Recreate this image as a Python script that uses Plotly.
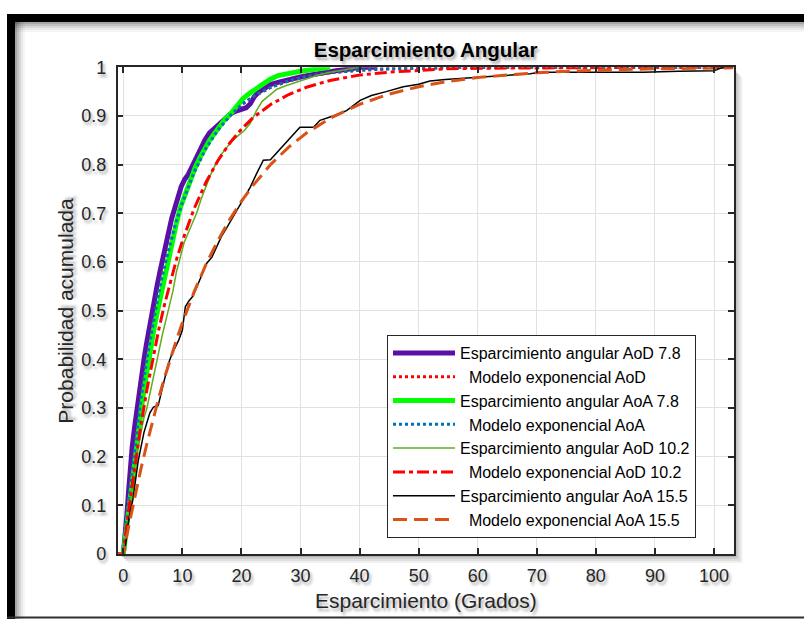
import plotly.graph_objects as go

W, H = 804, 619

# ---------------- data ----------------
model_x = [-0.95, 0, 1, 2, 3, 4, 5, 6, 7, 8, 9, 10, 12, 14, 16, 18, 20, 22, 25, 28,
           31, 35, 40, 45, 50, 55, 60, 70, 80, 90, 103.3]
model_aod = [0, 0, 0.120, 0.226, 0.319, 0.401, 0.473, 0.537, 0.592, 0.641, 0.685, 0.722,
             0.785, 0.834, 0.871, 0.900, 0.923, 0.940, 0.959, 0.972, 0.981, 0.989,
             0.994, 0.997, 0.998, 0.999, 1.0, 1.0, 1.0, 1.0, 1.0]
model_aoa = [0, 0, 0.120, 0.226, 0.319, 0.401, 0.473, 0.537, 0.592, 0.641, 0.685, 0.722,
             0.785, 0.834, 0.871, 0.900, 0.923, 0.940, 0.959, 0.972, 0.981, 0.989,
             0.994, 0.997, 0.998, 0.999, 1.0, 1.0, 1.0, 1.0, 1.0]
model_aod_102 = [0, 0, 0.098, 0.186, 0.266, 0.338, 0.403, 0.461, 0.514, 0.562, 0.605, 0.643,
                 0.710, 0.764, 0.808, 0.844, 0.873, 0.897, 0.924, 0.944, 0.959, 0.973,
                 0.984, 0.990, 0.994, 0.997, 0.998, 0.999, 1.0, 1.0, 1.0]
model_aoa_155 = [0, 0, 0.062, 0.121, 0.176, 0.227, 0.276, 0.321, 0.363, 0.403, 0.440, 0.475,
                 0.539, 0.595, 0.644, 0.687, 0.725, 0.758, 0.801, 0.836, 0.865, 0.895,
                 0.924, 0.945, 0.960, 0.971, 0.979, 0.989, 0.994, 0.997, 0.999]

emp_aod_x = [0, 0.3, 0.6, 0.9, 1.2, 1.5, 1.9, 2.3, 2.7, 3.1, 3.5, 3.9, 4.3, 4.8, 5.2, 5.7,
             6.2, 6.7, 7.2, 7.7, 8.2, 8.7, 9.2, 9.8, 10.4, 11.0, 11.6, 12.3, 13.0, 13.8,
             14.6, 15.5, 16.4, 17.3, 18.2, 19.1, 20.0, 20.8, 21.5, 22.2, 23.0, 24.0, 25.0,
             26.5, 28.0, 30.0, 32.0, 34.0, 36.0, 38.0, 40.0, 43.0]
emp_aod_y = [0, 0.03, 0.08, 0.13, 0.18, 0.22, 0.26, 0.30, 0.33, 0.37, 0.40, 0.43, 0.46, 0.49,
             0.52, 0.55, 0.58, 0.61, 0.64, 0.66, 0.69, 0.71, 0.73, 0.755, 0.77, 0.78, 0.795,
             0.81, 0.83, 0.85, 0.865, 0.875, 0.885, 0.895, 0.905, 0.91, 0.915, 0.917, 0.925,
             0.94, 0.95, 0.958, 0.965, 0.97, 0.975, 0.98, 0.985, 0.99, 0.993, 0.996, 1.0, 1.0]

emp_aoa_x = [0, 0.4, 0.8, 1.2, 1.6, 2.0, 2.4, 2.8, 3.3, 3.8, 4.3, 4.8, 5.3, 5.8, 6.3, 6.8,
             7.3, 7.8, 8.4, 9.0, 9.6, 10.2, 10.8, 11.5, 12.2, 13.0, 13.8, 14.6, 15.5, 16.4,
             17.3, 18.2, 19.2, 20.2, 21.2, 22.3, 23.5, 24.8, 26.2, 28.0, 30.0, 32.5, 35.0]
emp_aoa_y = [0, 0.04, 0.09, 0.13, 0.17, 0.21, 0.24, 0.28, 0.32, 0.36, 0.40, 0.43, 0.47, 0.50,
             0.53, 0.56, 0.59, 0.62, 0.65, 0.68, 0.71, 0.73, 0.75, 0.775, 0.795, 0.815, 0.835,
             0.85, 0.865, 0.88, 0.895, 0.905, 0.92, 0.935, 0.945, 0.955, 0.965, 0.975, 0.983,
             0.988, 0.992, 0.996, 1.0]

emp_aod_102_x = [0, 0.5, 1.0, 1.5, 2.0, 2.5, 3.0, 3.5, 4.0, 4.5, 5.0, 5.5, 6.0, 6.6, 7.2,
                 7.8, 8.4, 9.0, 9.6, 10.3, 11.0, 11.7, 12.4, 13.2, 14.0, 14.8, 15.6, 16.5,
                 17.5, 18.5, 19.5, 20.5, 21.5, 22.5, 23.5, 24.5, 26.0, 27.5, 29.0, 31.0,
                 33.0, 35.0, 37.5, 40.0]
emp_aod_102_y = [0, 0.05, 0.10, 0.14, 0.19, 0.22, 0.25, 0.28, 0.30, 0.33, 0.36, 0.39, 0.42,
                 0.45, 0.48, 0.51, 0.54, 0.58, 0.61, 0.64, 0.66, 0.68, 0.70, 0.73, 0.755,
                 0.78, 0.80, 0.82, 0.835, 0.85, 0.86, 0.87, 0.885, 0.91, 0.93, 0.94, 0.955,
                 0.962, 0.968, 0.976, 0.984, 0.99, 0.995, 1.0]

emp_aoa_155_x = [0, 0.4, 0.8, 1.2, 1.6, 2.0, 2.5, 3.0, 3.5, 4.0, 4.5, 5.1, 5.9, 6.4, 7.0,
                 7.6, 8.2, 8.8, 9.4, 10.0, 10.5, 11.1, 11.8, 12.5, 13.2, 14.1, 15.0, 15.8,
                 16.6, 17.5, 18.6, 19.8, 20.6, 21.5, 22.5, 23.7, 24.9, 26.0, 27.1, 28.5,
                 29.9, 32.2, 33.3, 35.5, 37.8, 40.1, 42.0, 44.5, 47.4, 50.0, 51.9, 54.5,
                 57.6, 61.0, 64.5, 68.9, 70.5, 76.0, 82.0, 88.0, 94.0, 100.0, 101.5, 103.3]
emp_aoa_155_y = [0, 0.02, 0.06, 0.09, 0.11, 0.15, 0.19, 0.22, 0.25, 0.27, 0.29, 0.302, 0.305,
                 0.33, 0.36, 0.39, 0.41, 0.425, 0.44, 0.46, 0.508, 0.52, 0.53, 0.55, 0.57,
                 0.597, 0.61, 0.63, 0.652, 0.67, 0.693, 0.72, 0.735, 0.754, 0.78, 0.809,
                 0.81, 0.825, 0.84, 0.86, 0.877, 0.877, 0.891, 0.9, 0.911, 0.932, 0.942,
                 0.95, 0.96, 0.965, 0.972, 0.975, 0.977, 0.98, 0.983, 0.987, 0.99, 0.99,
                 0.99, 0.99, 0.992, 0.993, 1.0, 1.0]

x_ticks = [0, 10, 20, 30, 40, 50, 60, 70, 80, 90, 100]
y_ticks = [0, 0.1, 0.2, 0.3, 0.4, 0.5, 0.6, 0.7, 0.8, 0.9, 1]
y_tick_text = ["0", "0.1", "0.2", "0.3", "0.4", "0.5", "0.6", "0.7", "0.8", "0.9", "1"]

names = ["Esparcimiento angular AoD 7.8",
         "\u00a0\u00a0Modelo exponencial AoD",
         "Esparcimiento angular AoA 7.8",
         "\u00a0\u00a0Modelo exponencial AoA",
         "Esparcimiento angular AoD 10.2",
         "\u00a0\u00a0Modelo exponencial AoD 10.2",
         "Esparcimiento angular AoA 15.5",
         "\u00a0\u00a0Modelo exponencial AoA 15.5"]

# ---------------- figure ----------------
FONT = "Liberation Sans, Arial, Helvetica, sans-serif"
INK = "#262626"
SHADOW = "2px 3px 3px rgba(0,0,0,0.35)"

series = [
    (emp_aod_x, emp_aod_y, dict(color="#5a10a8", width=5)),
    (model_x, model_aod, dict(color="#ff0000", width=3, dash="dot")),
    (emp_aoa_x, emp_aoa_y, dict(color="#00ff00", width=5)),
    (model_x, model_aoa, dict(color="#0072bd", width=3, dash="dot")),
    (emp_aod_102_x, emp_aod_102_y, dict(color="#5fae1c", width=1.5)),
    (model_x, model_aod_102, dict(color="#ff0000", width=3, dash="12px,4px,4px,4px")),
    (emp_aoa_155_x, emp_aoa_155_y, dict(color="#000000", width=1.5)),
    (model_x, model_aoa_155, dict(color="#d95319", width=3, dash="14px,7px")),
]

fig = go.Figure()
for (xs, ys, ln), nm in zip(series, names):
    fig.add_trace(go.Scatter(x=xs, y=ys, mode="lines", name=nm, line=ln))


def pxx(x):
    return x / W


def pxy(y):
    return 1 - y / H


shapes = []


def rect(x0, y0, x1, y1, color):
    shapes.append(dict(type="rect", xref="paper", yref="paper",
                       x0=pxx(x0), x1=pxx(x1), y0=pxy(y1), y1=pxy(y0),
                       fillcolor=color, line=dict(width=0), layer="below"))


# outer black frame with inner soft shadow
rect(7, 14, 15, 619, "#000000")
rect(7, 14, 804, 22, "#000000")
for i, a in enumerate([0.35, 0.25, 0.16, 0.09, 0.04]):
    rect(15 + 2 * i, 22, 17 + 2 * i, 619, "rgba(0,0,0,%.2f)" % a)
    rect(15, 22 + 2 * i, 804, 24 + 2 * i, "rgba(0,0,0,%.2f)" % a)
# bottom thin line
rect(7, 616.5, 804, 618.5, "#303030")

# drop shadow of the axes box
AX_L, AX_R, AX_T, AX_B = 117.7, 733.5, 67.3, 554.0
for i, a in enumerate([0.30, 0.20, 0.12, 0.06]):
    rect(AX_R + 1 + 2 * i, AX_T + 4 + 2 * i, AX_R + 3 + 2 * i, AX_B + 3 + 2 * i, "rgba(0,0,0,%.2f)" % a)
    rect(AX_L + 4 + 2 * i, AX_B + 1 + 2 * i, AX_R + 1 + 2 * i, AX_B + 3 + 2 * i, "rgba(0,0,0,%.2f)" % a)

axis_common = dict(showline=True, linecolor=INK, linewidth=1.5, mirror="ticks",
                   ticks="inside", ticklen=6, tickwidth=1.5, tickcolor=INK,
                   showgrid=True, gridcolor="#e1e1e1", gridwidth=1, zeroline=False,
                   automargin=False,
                   tickfont=dict(family=FONT, size=18, color=INK, shadow=SHADOW))

fig.update_layout(
    template="none",
    width=W, height=H, autosize=False,
    margin=dict(l=0, r=0, t=0, b=0, pad=0, autoexpand=False),
    paper_bgcolor="white", plot_bgcolor="white",
    font=dict(family=FONT, color=INK),
    title=dict(text="<b>Esparcimiento Angular</b>", x=pxx((AX_L + AX_R) / 2), xanchor="center",
               y=pxy(50), yanchor="middle", xref="paper", yref="paper",
               font=dict(family=FONT, size=20.5, color="#000000", shadow=SHADOW)),
    xaxis=dict(domain=[pxx(AX_L), pxx(AX_R)], range=[-0.95, 103.3], tickmode="array",
               tickvals=x_ticks, ticklabelstandoff=5, **axis_common),
    yaxis=dict(domain=[pxy(AX_B), pxy(AX_T)], range=[0, 1], tickmode="array",
               tickvals=y_ticks, ticktext=y_tick_text, ticklabelstandoff=6, **axis_common),
    legend=dict(x=pxx(387), y=pxy(335), xanchor="left", yanchor="top",
                bgcolor="white", bordercolor=INK, borderwidth=1,
                font=dict(family=FONT, size=16, color="#000000"),
                itemwidth=62, tracegroupgap=0),
    showlegend=True,
    shapes=shapes,
    annotations=[
        dict(text="Esparcimiento (Grados)", xref="paper", yref="paper",
             x=pxx((AX_L + AX_R) / 2), y=pxy(600), xanchor="center", yanchor="middle",
             showarrow=False, font=dict(family=FONT, size=21, color=INK, shadow=SHADOW)),
        dict(text="Probabilidad acumulada", xref="paper", yref="paper",
             x=pxx(66), y=pxy((AX_T + AX_B) / 2), xanchor="center", yanchor="middle",
             textangle=-90, showarrow=False,
             font=dict(family=FONT, size=21, color=INK, shadow=SHADOW)),
    ],
)

fig.write_html("out.html",
               config={"displayModeBar": False},
               post_script="document.body.style.margin='0';document.body.style.overflow='hidden';")
